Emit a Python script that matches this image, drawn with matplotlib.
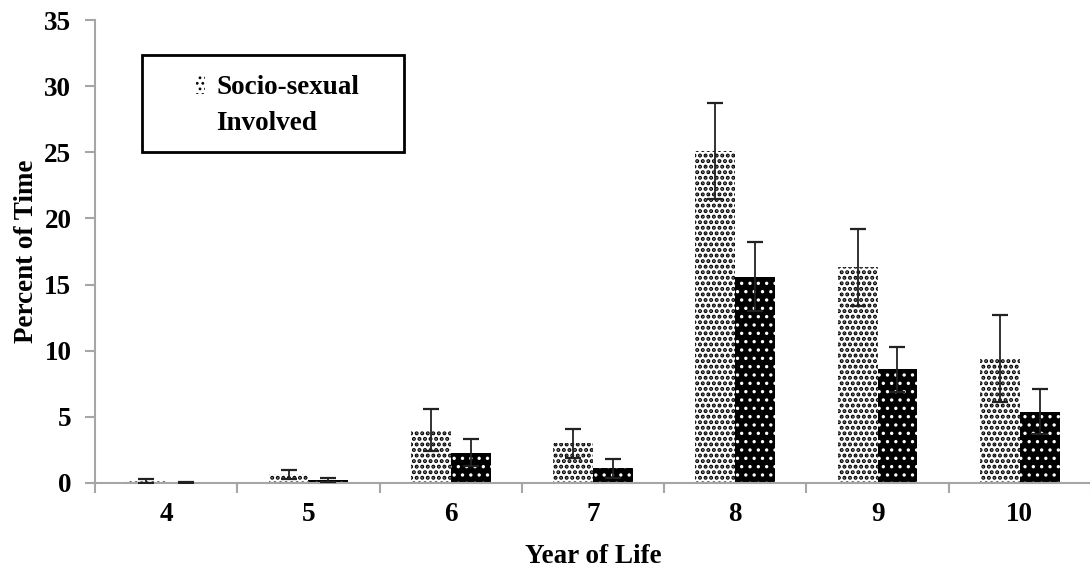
import numpy as np
import matplotlib
matplotlib.use("Agg")
import matplotlib.pyplot as plt
from matplotlib.patches import Rectangle, Patch

plt.rcParams['font.family'] = ['Liberation Serif', 'DejaVu Serif']
plt.rcParams['font.weight'] = 'bold'

# percent of time, mean and error per year of life
years = ['4', '5', '6', '7', '8', '9', '10']
socio_sexual = [0.15, 0.65, 4.0, 3.0, 25.1, 16.3, 9.4]
socio_err = [0.15, 0.35, 1.6, 1.1, 3.6, 2.9, 3.3]
involved = [0.05, 0.2, 2.3, 1.1, 15.6, 8.6, 5.4]
involved_err = [0.05, 0.15, 1.0, 0.7, 2.6, 1.7, 1.7]

fs = 19.5

fig = plt.figure(figsize=(10.9, 5.67), dpi=100)
ax = fig.add_axes([95/1090, 1-483/567, 996/1090, 463/567])

x = np.arange(len(years))
w = 0.28

plt.rcParams['hatch.linewidth'] = 2.0
b1 = ax.bar(x - w/2, socio_sexual, w, color='white', edgecolor='black',
            linewidth=0, hatch='...', zorder=2)
plt.rcParams['hatch.linewidth'] = 1.2
b2 = ax.bar(x + w/2, involved, w, color='black', edgecolor='white',
            linewidth=0, hatch='..', zorder=2)
ax.errorbar(x - w/2, socio_sexual, yerr=socio_err, fmt='none', ecolor='#222222',
            elinewidth=1.3, capsize=6, capthick=1.6, zorder=3)
ax.errorbar(x + w/2, involved, yerr=involved_err, fmt='none', ecolor='#222222',
            elinewidth=1.3, capsize=6, capthick=1.6, zorder=3)

ax.set_xlim(-0.5, len(years) - 0.5)
ax.set_ylim(0, 35)
ax.set_yticks(np.arange(0, 36, 5))
ax.set_xticks(x)
ax.set_xticklabels(years)
ax.set_xticks(np.arange(-0.5, len(years), 1), minor=True)

for s in ['top', 'right']:
    ax.spines[s].set_visible(False)
for s in ['left', 'bottom']:
    ax.spines[s].set_color('#a6a6a6')
    ax.spines[s].set_linewidth(1.5)

ax.tick_params(axis='x', which='major', length=0, pad=14, labelsize=fs)
ax.tick_params(axis='x', which='minor', length=7, width=1.5, color='#a6a6a6')
ax.tick_params(axis='y', length=7, width=1.5, color='#a6a6a6', pad=10, labelsize=fs)

ax.set_xlabel('Year of Life', fontsize=fs, fontweight='bold', labelpad=12)
ax.set_ylabel('Percent of Time', fontsize=fs, fontweight='bold', labelpad=4)

# legend frame and entries
fig.patches.append(Rectangle((142/1090, 1-152/567), 262/1090, 97/567,
                             transform=fig.transFigure, fill=False,
                             edgecolor='black', linewidth=2))
blank = Patch(facecolor='none', edgecolor='none')
fig.legend([b1, blank], ['Socio-sexual', 'Involved'], loc='upper left',
           bbox_to_anchor=(196/1090, 1-75/567), frameon=False,
           handlelength=0.35, handleheight=0.7, handletextpad=0.4,
           labelspacing=0.4, borderpad=0, borderaxespad=0,
           prop={'size': fs, 'weight': 'bold'})

fig.savefig('out.png', dpi=100)
